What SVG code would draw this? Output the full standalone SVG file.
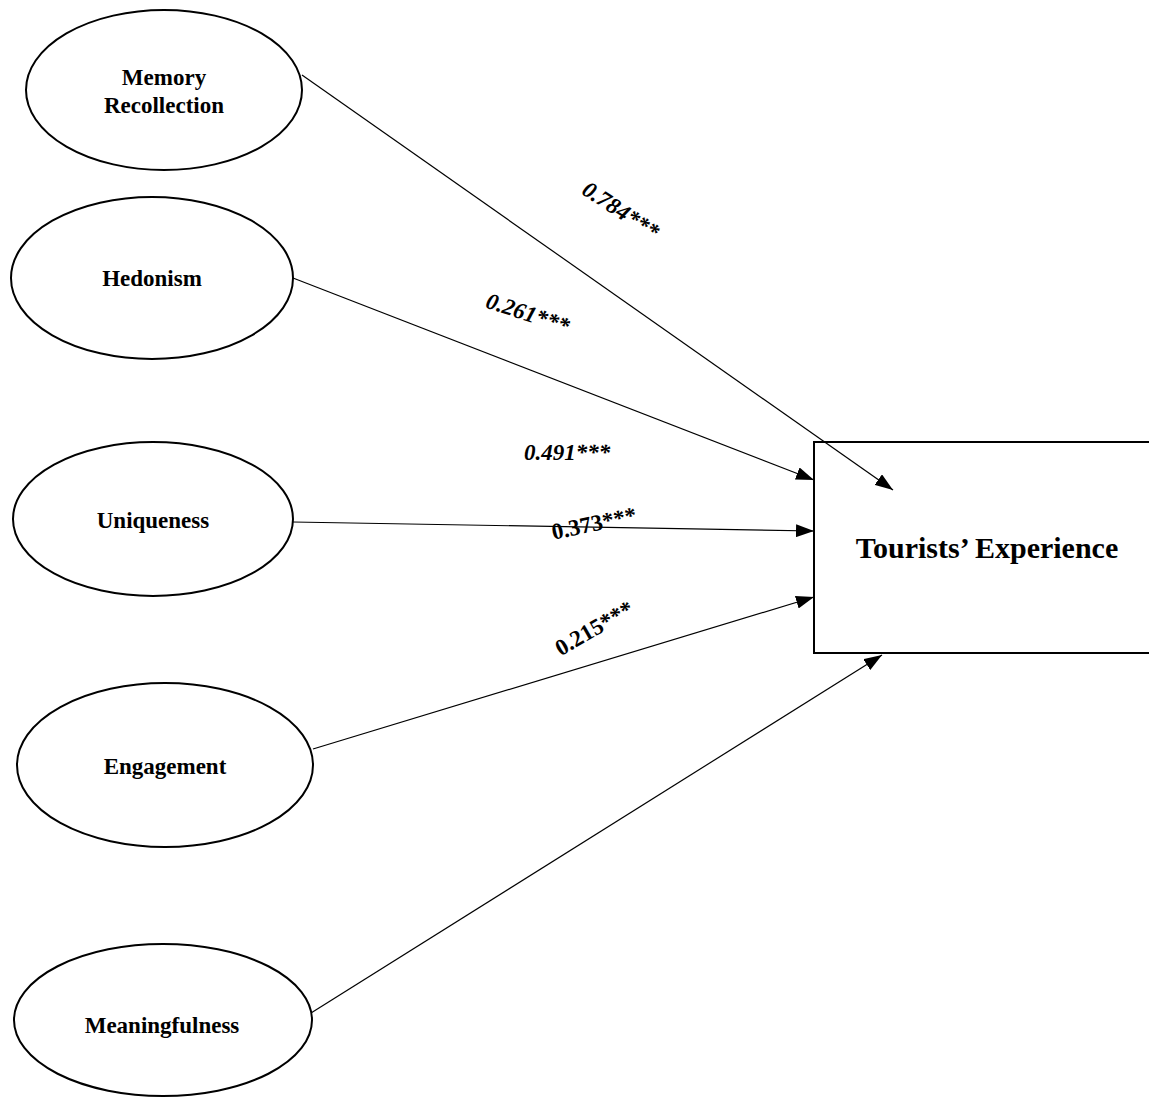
<svg xmlns="http://www.w3.org/2000/svg" width="1149" height="1101" viewBox="0 0 1149 1101">
<style>
.node{fill:#fff;stroke:#000;stroke-width:2}
.lbl{font-family:"Liberation Serif","Times New Roman",serif;font-weight:bold;font-size:23px;fill:#000;text-anchor:middle}
.coef{font-family:"Liberation Serif","Times New Roman",serif;font-weight:bold;font-size:23px;fill:#000;text-anchor:middle}
.it{font-style:italic}
.edge{stroke:#000;stroke-width:1.2;fill:none;marker-end:url(#ah)}
</style>
<defs>
<marker id="ah" markerUnits="userSpaceOnUse" markerWidth="18" markerHeight="13" refX="18" refY="6.5" orient="auto">
<path d="M0,0 L18,6.5 L0,13 z" fill="#000"/>
</marker>
</defs>
<rect width="1149" height="1101" fill="#fff"/>
<g id="node-memory">
<ellipse class="node" cx="164" cy="90" rx="138" ry="80"/>
<text class="lbl" x="164" y="85">Memory</text>
<text class="lbl" x="164" y="113">Recollection</text>
</g>
<g id="node-hedonism">
<ellipse class="node" cx="152" cy="278" rx="141" ry="81"/>
<text class="lbl" x="152" y="286">Hedonism</text>
</g>
<g id="node-uniqueness">
<ellipse class="node" cx="153" cy="519" rx="140" ry="77"/>
<text class="lbl" x="153" y="528">Uniqueness</text>
</g>
<g id="node-engagement">
<ellipse class="node" cx="165" cy="765" rx="148" ry="82"/>
<text class="lbl" x="165" y="774">Engagement</text>
</g>
<g id="node-meaningfulness">
<ellipse class="node" cx="163" cy="1020" rx="149" ry="76"/>
<text class="lbl" x="162" y="1033">Meaningfulness</text>
</g>
<g id="node-experience">
<rect class="node" x="814" y="442" width="345" height="211" stroke-width="2.5"/>
<text class="lbl" x="987" y="558" style="font-size:30px">Tourists’ Experience</text>
</g>
<g id="connectors">
<line class="edge" x1="302" y1="75" x2="893" y2="490"/>
<line class="edge" x1="293" y1="278" x2="814" y2="480"/>
<line class="edge" x1="293" y1="522" x2="814" y2="531"/>
<line class="edge" x1="313" y1="749" x2="814" y2="597"/>
<line class="edge" x1="311" y1="1013" x2="882" y2="655"/>
</g>
<g id="labels">
<text class="coef it" transform="translate(621,210) rotate(33)" x="0" y="8">0.784***</text>
<text class="coef it" transform="translate(528,313) rotate(18)" x="0" y="8">0.261***</text>
<text class="coef it" x="567" y="460">0.491***</text>
<text class="coef" transform="translate(594,523) rotate(-12)" x="0" y="8">0.373***</text>
<text class="coef" transform="translate(594,628) rotate(-30)" x="0" y="8">0.215***</text>
</g>
</svg>
